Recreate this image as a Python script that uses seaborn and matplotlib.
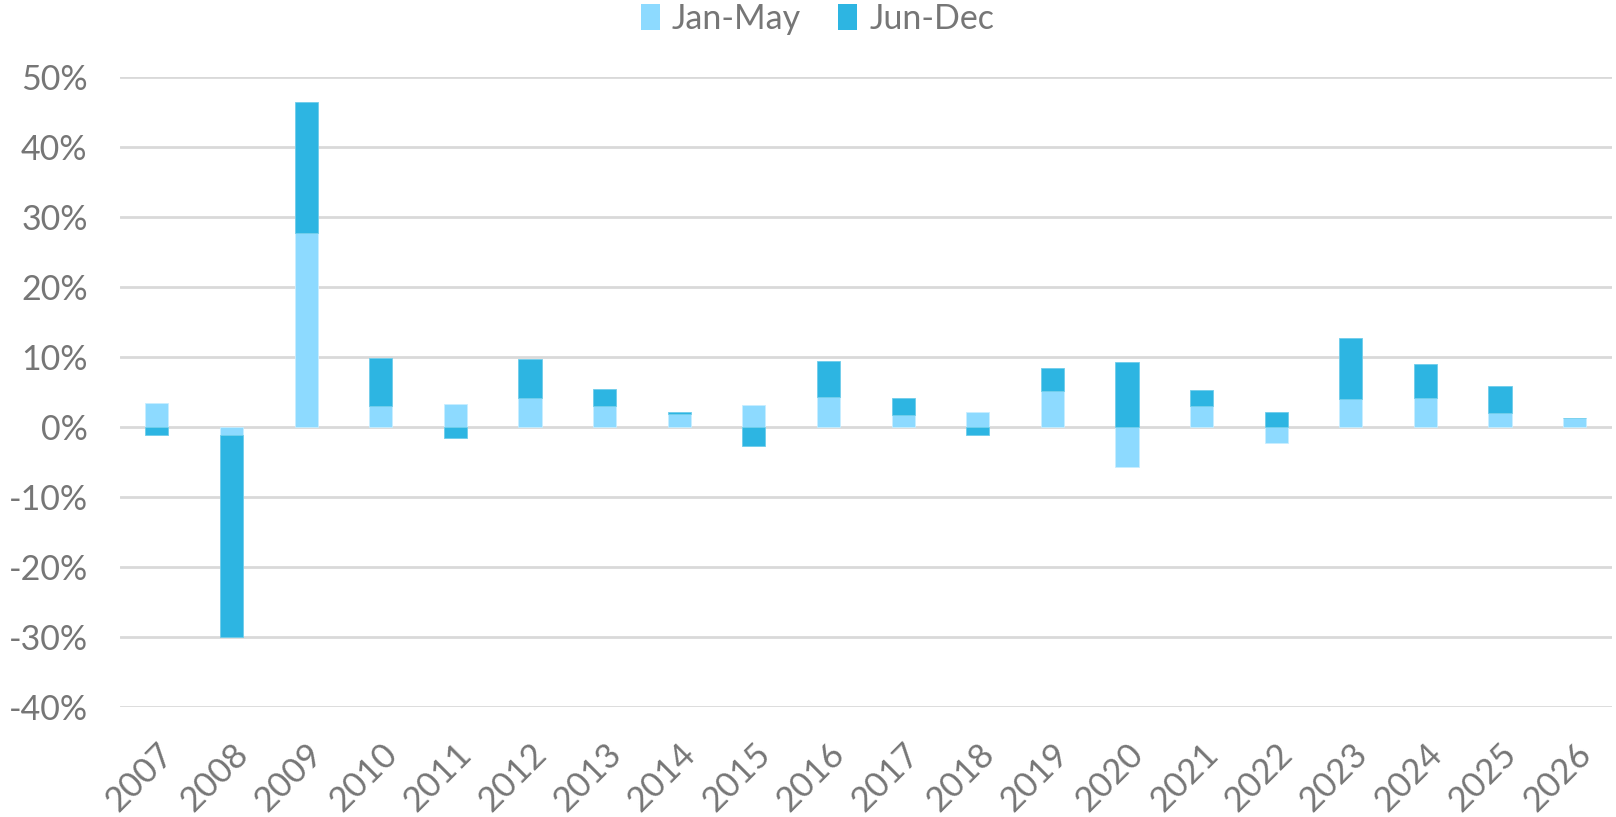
import numpy as np
import pandas as pd
import matplotlib
matplotlib.use("Agg")
import matplotlib.pyplot as plt
from matplotlib.ticker import FuncFormatter
from matplotlib.patches import Patch
import seaborn as sns

# Values (percent)
years = [str(y) for y in range(2007, 2027)]
jan_may = [3.4, -1.2, 27.7, 3.0, 3.3, 4.1, 3.0, 1.8, 3.2, 4.3,
           1.7, 2.2, 5.2, -5.7, 2.95, -2.3, 4.05, 4.2, 2.0, 1.3]
jun_dec = [-1.1, -28.8, 18.8, 6.9, -1.6, 5.6, 2.5, 0.3, -2.7, 5.2,
           2.4, -1.2, 3.2, 9.3, 2.4, 2.2, 8.65, 4.8, 3.8, 0.0]
yticks = list(range(-40, 51, 10))
series_names = ["Jan-May", "Jun-Dec"]

LIGHT = "#8DDAFF"
DARK = "#2DB5E2"
TEXT = "#767676"
GRID = "#D9D9D9"

sns.set_theme(style="white")
plt.rcParams["font.family"] = ["Lato", "DejaVu Sans"]
plt.rcParams["axes.unicode_minus"] = False

df = pd.DataFrame({"year": years, "jan_may": jan_may, "jun_dec": jun_dec})

# Excel-style stacking: positives stack up from 0, negatives stack down
jm = np.array(jan_may)
jd = np.array(jun_dec)
jd_bottom = np.where(jd >= 0, np.where(jm > 0, jm, 0.0), np.where(jm < 0, jm, 0.0))

fig = plt.figure(figsize=(16.16, 8.17), dpi=100)
ax = fig.add_axes([0.0740, 0.1346, 0.9235, 0.7711])

ax.set_axisbelow(True)
ax.yaxis.grid(True, color=GRID, linewidth=2)

sns.barplot(data=df, x="year", y="jan_may", color=LIGHT, width=0.31,
            saturation=1, edgecolor="#C8EEFF", linewidth=0.6, ax=ax, zorder=2)
sns.barplot(data=df, x="year", y="jun_dec", color=DARK, width=0.31,
            saturation=1, edgecolor="#6FCDEB", linewidth=0.6, bottom=jd_bottom,
            ax=ax, zorder=3)

ax.set_xlim(-0.5, len(years) - 0.5)
ax.set_ylim(-40, 50)
ax.set_yticks(yticks)
ax.yaxis.set_major_formatter(FuncFormatter(lambda v, p: f"{v:.0f}%"))
ax.set_xlabel("")
ax.set_ylabel("")

for s in ax.spines.values():
    s.set_visible(False)

ax.tick_params(axis="y", length=0, pad=23, labelsize=24.5, labelcolor=TEXT)
ax.tick_params(axis="x", length=0, pad=22, labelsize=25, labelcolor=TEXT)
for lbl in ax.get_xticklabels():
    lbl.set_rotation(45)
    lbl.set_ha("right")
    lbl.set_va("top")
    lbl.set_rotation_mode("anchor")

handles = [Patch(facecolor=LIGHT, edgecolor="none"),
           Patch(facecolor=DARK, edgecolor="none")]
leg = fig.legend(handles, series_names, loc="center", bbox_to_anchor=(0.506, 0.977),
                 ncol=2, frameon=False, fontsize=24.5, handlelength=0.55,
                 handleheight=0.8, handletextpad=0.35, columnspacing=1.1)
for t in leg.get_texts():
    t.set_color(TEXT)

fig.savefig("out.png", dpi=100)
